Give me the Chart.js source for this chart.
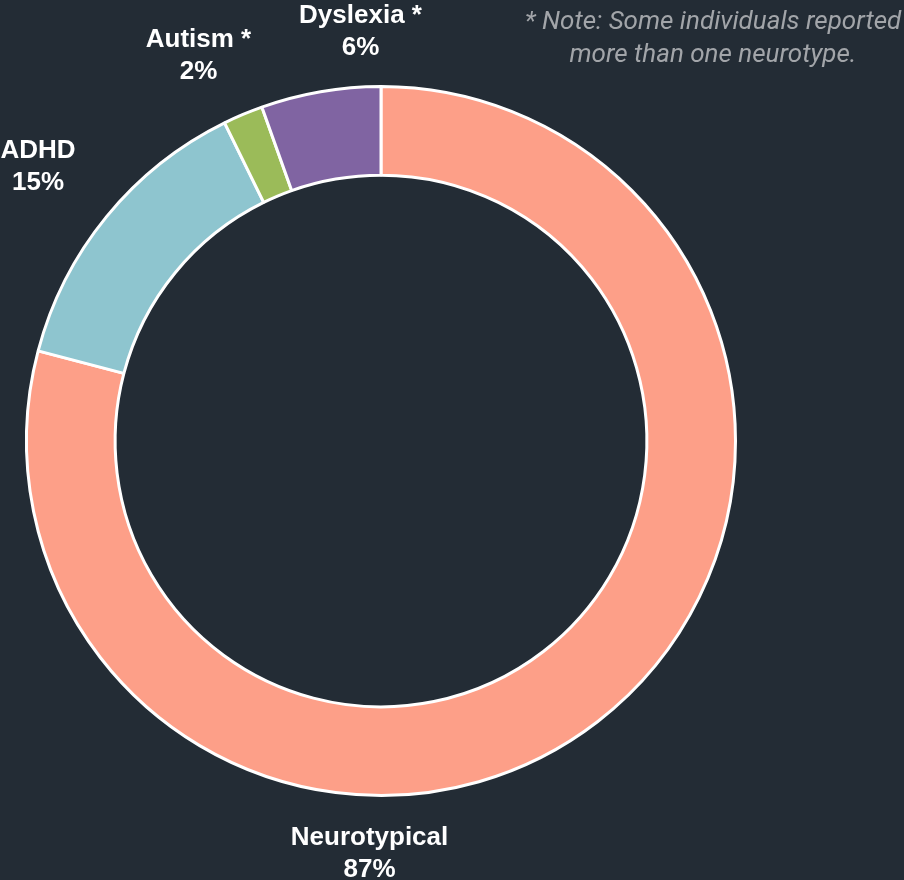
<!DOCTYPE html>
<html>
<head>
<meta charset="utf-8">
<script src="https://cdn.jsdelivr.net/npm/chart.js@4"></script>
<style>
  html, body { margin: 0; padding: 0; background: #232c35; }
  #wrap { width: 904px; height: 880px; }
</style>
</head>
<body>
<div id="wrap"><canvas id="neuroChart" width="904" height="880"></canvas></div>
<script>
const categories = ['Neurotypical', 'ADHD', 'Autism *', 'Dyslexia *'];
const percents = [87, 15, 2, 6];
const sliceColors = ['#fd9f88', '#8ec5cf', '#9bbb59', '#8064a2'];

// baseline of each label's first line, relative to the ring centre
const labelOffsets = [[-11.5, 404], [-343, -283], [-182.5, -394], [-20.5, -418]];

const sliceLabels = {
    id: 'sliceLabels',
    afterDatasetsDraw(chart) {
        const c = chart.ctx;
        const arc = chart.getDatasetMeta(0).data[0];
        c.save();
        c.fillStyle = '#ffffff';
        c.font = 'bold 26px "Liberation Sans", Arial, sans-serif';
        c.textAlign = 'center';
        c.textBaseline = 'alphabetic';
        categories.forEach((name, i) => {
            const x = arc.x + labelOffsets[i][0];
            const y = arc.y + labelOffsets[i][1];
            c.fillText(name, x, y);
            c.fillText(percents[i] + '%', x, y + 32);
        });

        // footnote
        c.fillStyle = '#a2a5a9';
        c.font = 'italic 26px Roboto, sans-serif';
        c.fillText('* Note: Some individuals reported', 713, 29);
        c.fillText('more than one neurotype.', 713, 62);
        c.restore();
    }
};

const ctx = document.getElementById('neuroChart').getContext('2d');
let neuroChart = new Chart(ctx, {
    type: 'doughnut',
    data: {
        labels: categories,
        datasets: [{
            data: percents,
            backgroundColor: sliceColors,
            borderColor: '#ffffff',
            borderWidth: 3
        }]
    },
    options: {
        responsive: false,
        animation: false,
        cutout: '75%',
        layout: { padding: { left: 25, right: 167, top: 85, bottom: 83 } },
        plugins: {
            legend: { display: false },
            tooltip: { enabled: false }
        }
    },
    plugins: [sliceLabels]
});
</script>
</body>
</html>
